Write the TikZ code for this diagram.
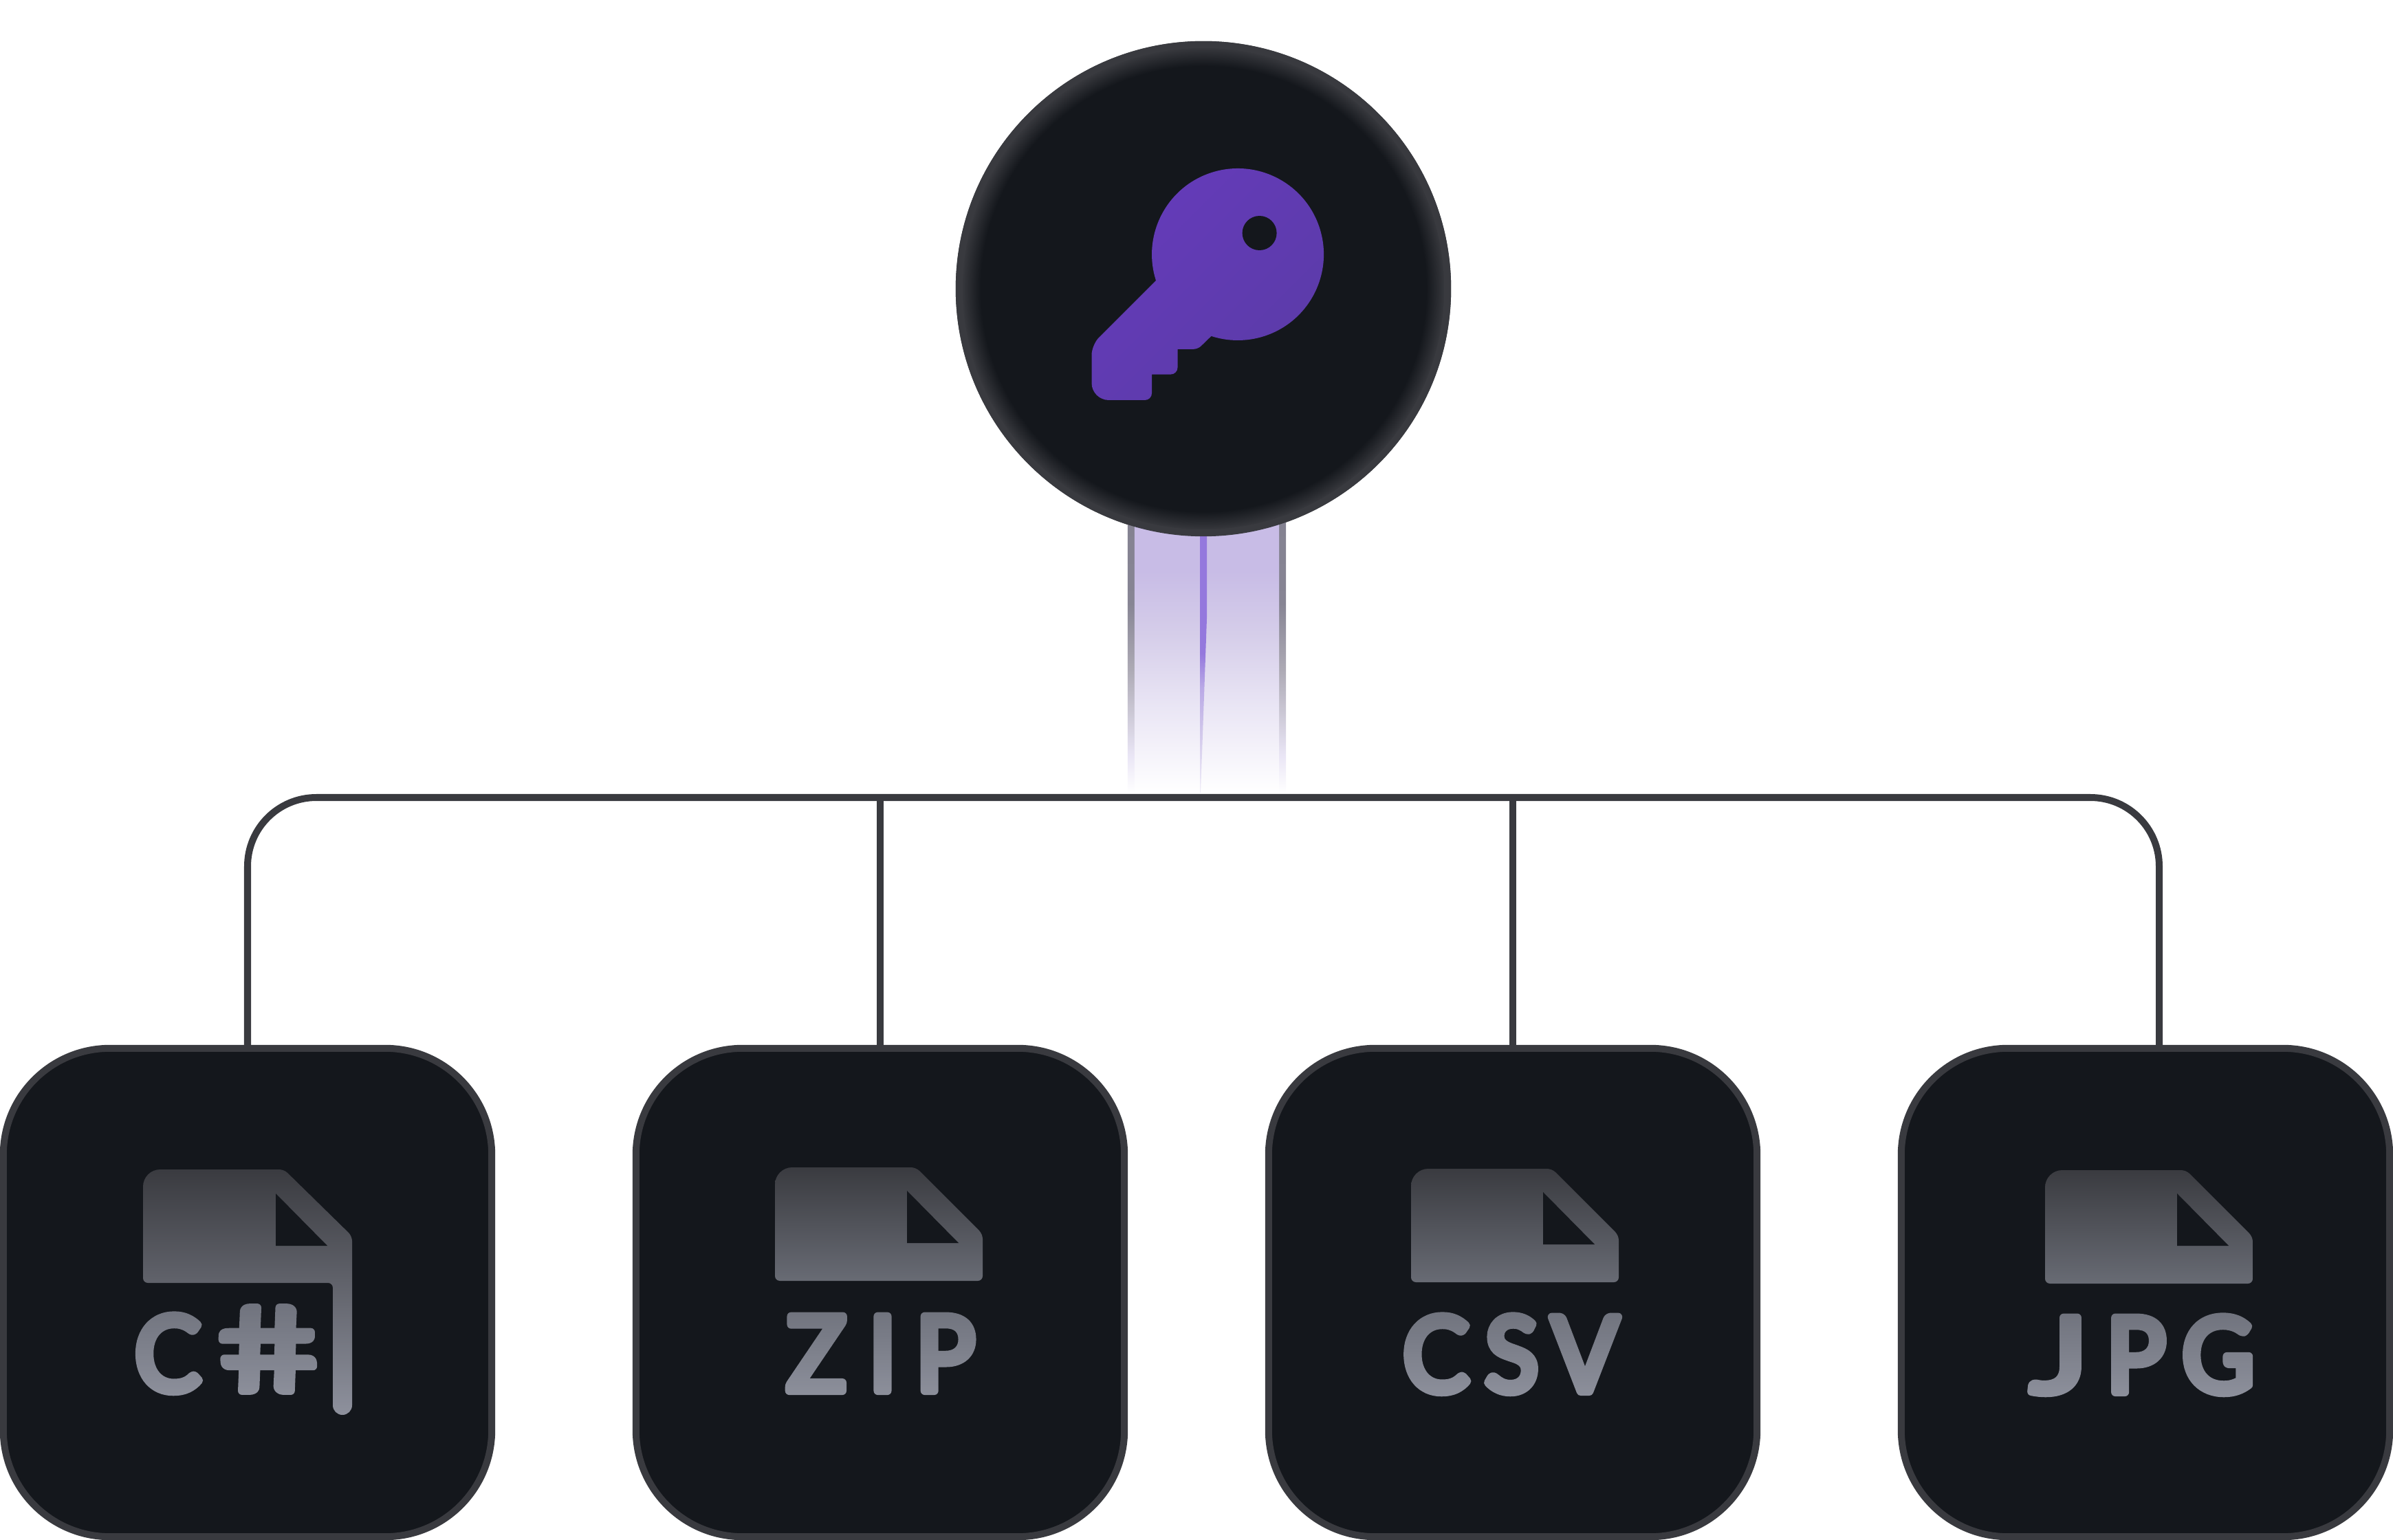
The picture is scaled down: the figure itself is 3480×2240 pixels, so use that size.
\documentclass[tikz,border=0pt]{standalone}
\usepackage{fontspec}
\usetikzlibrary{fadings}
\newfontfamily\tagface[FakeBold=8,FakeStretch=.95]{Lato}
\newfontfamily\wideface[FakeBold=8,FakeStretch=1.35]{Lato}
\newfontfamily\hashface[FakeBold=7,FakeStretch=1.55,FakeSlant=-.27]{Lato}
\definecolor{cardink}{HTML}{14171C}
\definecolor{edgegray}{HTML}{393A3F}
\definecolor{keytop}{HTML}{653BBA}
\definecolor{keybot}{HTML}{5B3BA8}
\definecolor{sheettop}{HTML}{3A3B40}
\definecolor{sheetbot}{HTML}{686B74}
\definecolor{flagbot}{HTML}{8E919D}
\definecolor{tagink}{HTML}{8E919D}
\definecolor{fillA}{HTML}{EAE6F5}
\definecolor{fillB}{HTML}{D5CDE9}
\definecolor{fillC}{HTML}{C8BCE6}
\definecolor{edgeA}{HTML}{E9E5F5}
\definecolor{edgeB}{HTML}{ACA9B4}
\definecolor{edgeC}{HTML}{878594}
\definecolor{edgeD}{HTML}{7F7D8C}
\definecolor{coreA}{HTML}{F0EDF8}
\definecolor{coreB}{HTML}{CFC5EA}
\definecolor{coreC}{HTML}{B9A8E6}
\definecolor{coreD}{HTML}{9478DD}
\pgfdeclareradialshading{discglow}{\pgfpointorigin}{color(0bp)=(cardink); color(22.8bp)=(cardink); color(24.8bp)=(edgegray); color(50bp)=(edgegray)}
\pgfdeclareverticalshading{beamfill}{100bp}{color(0bp)=(white); color(25bp)=(white); color(40.6bp)=(fillA); color(54.6bp)=(fillB); color(66bp)=(fillC); color(100bp)=(fillC)}
\pgfdeclareverticalshading{beamedge}{100bp}{color(0bp)=(white); color(25bp)=(white); color(32bp)=(edgeA); color(48bp)=(edgeB); color(60bp)=(edgeC); color(100bp)=(edgeD)}
\pgfdeclareverticalshading{beamcore}{100bp}{color(0bp)=(coreA); color(25bp)=(coreA); color(36.8bp)=(coreB); color(44.5bp)=(coreC); color(50.8bp)=(coreD); color(100bp)=(coreD)}
\tikzset{
  card/.style={draw=edgegray,fill=cardink,line width=.1cm,rounded corners=1.55cm,
    minimum width=7.1cm,minimum height=7.1cm,inner sep=0pt},
  keydisc/.style={circle,draw=edgegray,line width=.1cm,shade,shading=discglow,
    minimum size=7.1cm,inner sep=0pt},
  wire/.style={draw=edgegray,line width=.1cm},
  sheet/.style={top color=sheettop,bottom color=sheetbot},
  tag/.style={text=tagink,anchor=base,inner sep=0pt,
    font=\fontsize{43}{43}\selectfont\tagface},
}
\begin{document}
\begin{tikzpicture}[x=.01cm,y=-.01cm,line join=round]
\useasboundingbox (0,0) rectangle (3480,2240);
\newcommand{\fileicon}[2]{
  \begin{scope}[shift={(#1,#2)}]
    \shade[sheet] (0,165) [rounded corners=.07cm] -- (302,165) -- (302,97) -- (205,0) [rounded corners=.25cm] -- (0,0) [rounded corners=.07cm] -- cycle;
    \fill[cardink] (192,34) -- (192,110) -- (267,110) -- cycle;
  \end{scope}
}

% named ends for the connectors
\coordinate (bus) at (1750,1160);
\coordinate (beamend) at (1750,1153);
\coordinate (jpgdrop) at (3140,1520);

% beam under the disc
\node[keydisc] (key) at (1750,420) {};
\shade[shading=beamedge] ([xshift=-1.1cm,yshift=.2cm]key.south) rectangle ([xshift=-1cm]beamend);
\shade[shading=beamedge] ([xshift=1.1cm,yshift=.2cm]key.south) rectangle ([xshift=1.2cm]beamend);
\shade[shading=beamfill] ([xshift=-1cm,yshift=.2cm]key.south) rectangle ([xshift=1.1cm]beamend);
\shade[shading=beamcore] ([xshift=-.05cm,yshift=.2cm]key.south) -- ([xshift=.05cm,yshift=.2cm]key.south) -- (1755,900) -- ([xshift=-.04cm]beamend) -- ([xshift=-.05cm]beamend) -- cycle;
\node[keydisc] at (key) {};

% the key: bow, then the stepped bit
\shade[top color=keytop,bottom color=keybot,shading angle=45]
  (1681,408) arc[start angle=162.3,end angle=468,radius=125]
  [rounded corners=.06cm] -- (1742,507.8) [sharp corners] -- (1712.5,507.8)
  [rounded corners=.1cm] -- (1712.5,544.6) [sharp corners] -- (1675,544.6)
  [rounded corners=.1cm] -- (1675,582) [rounded corners=.25cm] -- (1587.5,582)
  [rounded corners=.15cm] -- (1587.5,501.5) [sharp corners] -- cycle;
\fill[cardink] (1831.6,339) circle (25);

% cards
\foreach \name/\xpos in {cs/360,zip/1280,csv/2200,jpg/3120} {
  \node[card] (\name) at (\xpos,1880) {};
}

% connectors
\draw[wire,rounded corners=1cm] (cs.north) |- (bus) -| (jpgdrop);
\draw[wire] (zip.north) -- (zip.north |- bus);
\draw[wire] (csv.north) -- (csv.north |- bus);

% file icons
\fileicon{1127}{1698}
\fileicon{2052}{1700}
\fileicon{2974}{1702}
%the first one runs on into a flag:
\shade[top color=sheettop,bottom color=flagbot] (208,1866) [rounded corners=.07cm] -- (484,1866) [sharp corners] -- (484,2044) arc[start angle=180,end angle=0,radius=14] [rounded corners=.07cm] -- (512,1798) -- (413,1701) [rounded corners=.25cm] -- (208,1701) [rounded corners=.07cm] -- cycle;
\fill[cardink] (401,1736) -- (401,1812) -- (476,1812) -- cycle;

% labels
\node[tag] (cslabel) at (339,2023) {C\kern.38cm{\fontsize{48}{48}\selectfont\hashface\#}};
\node[tag] (ziplabel) at (1281,2023) {Z\kern.33cm I\kern.28cm P};
\node[tag] (csvlabel) at (2197,2024) {C\kern.23cm S\kern.19cm V};
\node[tag] (jpglabel) at (3115,2025) {{\wideface J}\kern.25cm P\kern.24cm G};
%labels get lighter downwards:
\foreach \xa/\xb/\ytop in {180/480/1890,1130/1430/1900,2030/2360/1902,2945/3285/1904} {
  \fill[cardink,fill opacity=.25,path fading=south] (\xa,\ytop) rectangle (\xb,2035);
}
\end{tikzpicture}
\end{document}
